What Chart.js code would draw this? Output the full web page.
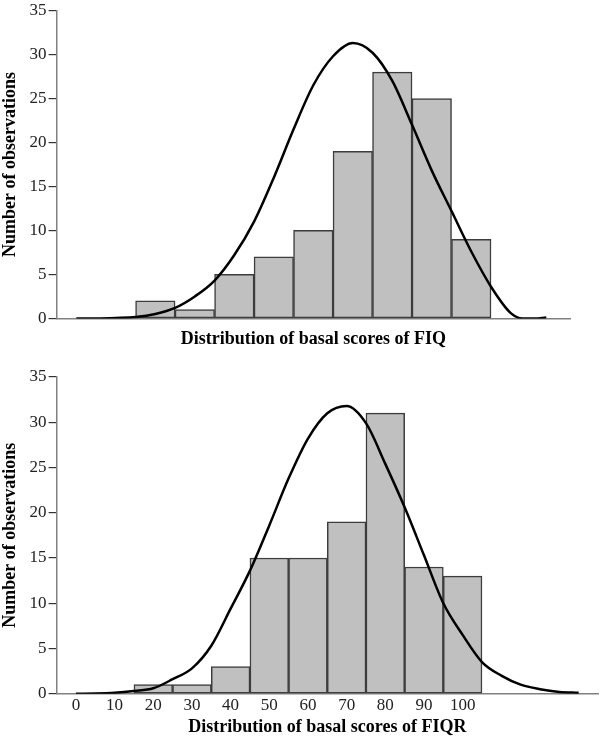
<!DOCTYPE html>
<html>
<head>
<meta charset="utf-8">
<script src="https://cdn.jsdelivr.net/npm/chart.js@4.4.0/dist/chart.umd.min.js"></script>
<style>
  body { margin: 0; background: #fff; }
  #top { position: absolute; left: 0; top: 0; width: 600px; height: 360px; }
  #bottom { position: absolute; left: 0; top: 360px; width: 600px; height: 378px; }
</style>
</head>
<body>
<div id="top"><canvas id="fiqChart"></canvas></div>
<div id="bottom"><canvas id="fiqrChart"></canvas></div>
<script>
// bin centres (bins are 10 wide: 15-25, 25-35, ... 95-105)
const binCenters = [20, 30, 40, 50, 60, 70, 80, 90, 100];
const fiqCounts = [2, 1, 5, 7, 10, 19, 28, 25, 9];
const fiqrCounts = [1, 1, 3, 15, 15, 19, 31, 14, 13];

// fitted curves
const fiqCurveX = [0, 5, 10, 15, 20, 25, 30, 35, 40, 45, 50, 55, 60, 65, 70, 75, 80, 85, 90, 95, 100, 105, 110, 113, 116, 119];
const fiqCurveY = [0, 0, 0.05, 0.15, 0.5, 1.2, 2.5, 4.3, 7.2, 11.0, 16.0, 21.5, 26.5, 29.8, 31.3, 30.2, 27.0, 22.0, 16.8, 12.2, 7.6, 3.6, 0.6, 0, 0, 0.1];

const fiqrCurveX = [0, 5, 10, 15, 20, 25, 30, 35, 40, 45, 50, 55, 60, 65, 70, 75, 80, 85, 90, 95, 100, 105, 110, 115, 120, 125, 130];
const fiqrCurveY = [0, 0.02, 0.1, 0.3, 0.6, 1.6, 2.8, 5.3, 9.4, 13.6, 18.6, 23.8, 28.2, 31.0, 31.8, 29.9, 25.4, 20.6, 15.3, 10.0, 6.5, 3.5, 2.0, 1.0, 0.5, 0.2, 0.1];

const xTickValues = [0, 10, 20, 30, 40, 50, 60, 70, 80, 90, 100];
const yTickValues = [0, 5, 10, 15, 20, 25, 30, 35];

const serif = "'Liberation Serif', 'Times New Roman', serif";

function makeConfig(counts, curveX, curveY, title, showXLabels, xMax, padding) {
    return {
        type: 'bar',
        data: {
            datasets: [{
                type: 'line',
                data: curveX.map((x, i) => ({ x: x, y: curveY[i] })),
                borderColor: '#000',
                borderWidth: 2.5,
                pointRadius: 0,
                cubicInterpolationMode: 'monotone',
                fill: false,
                order: 0
            }, {
                type: 'bar',
                data: binCenters.map((x, i) => ({ x: x, y: counts[i] })),
                backgroundColor: '#c0c0c0',
                borderColor: '#3c3c3c',
                borderWidth: 1.5,
                borderSkipped: false,
                barPercentage: 1,
                categoryPercentage: 1,
                order: 1
            }]
        },
        options: {
            responsive: true,
            maintainAspectRatio: false,
            animation: false,
            layout: { padding: padding },
            plugins: {
                legend: { display: false },
                tooltip: { enabled: false }
            },
            scales: {
                x: {
                    type: 'linear',
                    min: -5,
                    max: xMax,
                    offset: false,
                    afterBuildTicks: (scale) => {
                        scale.ticks = xTickValues.map(v => ({ value: v }));
                    },
                    grid: { display: false, drawTicks: false },
                    border: { display: true, color: '#808080', width: 1.5 },
                    ticks: {
                        display: showXLabels,
                        padding: 2,
                        color: '#222',
                        font: { family: serif, size: 17, lineHeight: 1.1 }
                    },
                    title: {
                        display: true,
                        text: title,
                        color: '#000',
                        padding: { top: showXLabels ? 0 : 10, bottom: 0 },
                        font: { family: serif, size: 18, weight: 'bold' }
                    }
                },
                y: {
                    min: 0,
                    max: 35,
                    afterBuildTicks: (scale) => {
                        scale.ticks = yTickValues.map(v => ({ value: v }));
                    },
                    grid: {
                        display: true,
                        drawOnChartArea: false,
                        drawTicks: true,
                        tickLength: 8,
                        color: '#333',
                        lineWidth: 1.2
                    },
                    border: { display: true, color: '#808080', width: 1.5 },
                    ticks: {
                        padding: 2,
                        color: '#222',
                        font: { family: serif, size: 17, lineHeight: 1 }
                    },
                    title: {
                        display: true,
                        text: 'Number of observations',
                        color: '#000',
                        padding: { top: 0, bottom: 6 },
                        font: { family: serif, size: 18, weight: 'bold' }
                    }
                }
            }
        }
    };
}

new Chart(document.getElementById('fiqChart'),
    makeConfig(fiqCounts, fiqCurveX, fiqCurveY, 'Distribution of basal scores of FIQ', false, 125,
        { top: 0, right: 30, bottom: 10, left: 0 }));

new Chart(document.getElementById('fiqrChart'),
    makeConfig(fiqrCounts, fiqrCurveX, fiqrCurveY, 'Distribution of basal scores of FIQR', true, 135,
        { top: 17, right: 2, bottom: 0, left: 0 }));
</script>
</body>
</html>
